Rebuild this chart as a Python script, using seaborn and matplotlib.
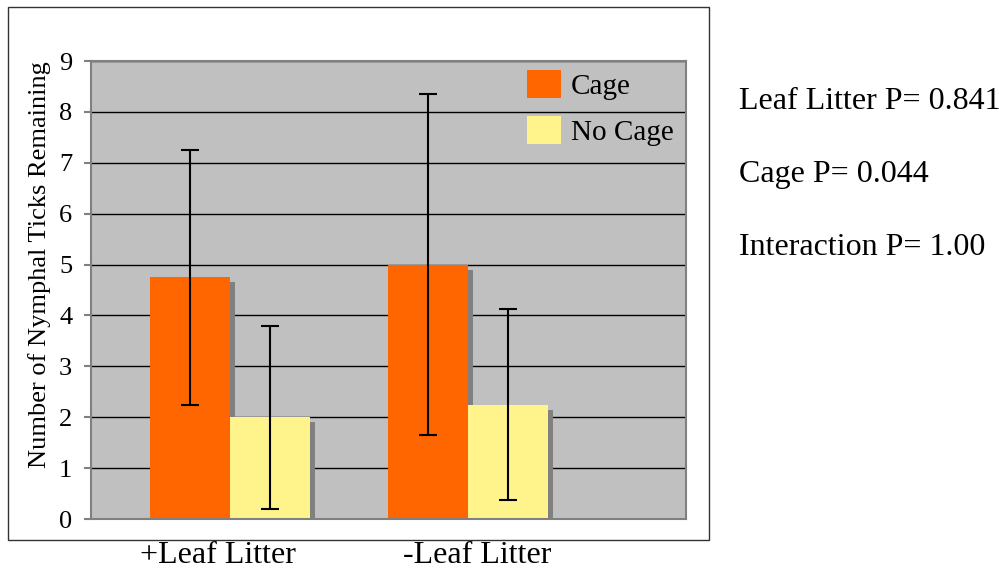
import pandas as pd
import seaborn as sns
import matplotlib.pyplot as plt
import matplotlib.patheffects as pe
import matplotlib.transforms as mtrans
from matplotlib.patches import Rectangle

# data
litter = ['+Leaf Litter', '-Leaf Litter']
cage_levels = ['Cage', 'No Cage']
cage_means = [4.75, 5.0]
nocage_means = [2.0, 2.25]
cage_err = [2.5, 3.35]
nocage_err = [1.8, 1.88]
stats_text = ['Leaf Litter P= 0.841', 'Cage P= 0.044', 'Interaction P= 1.00']

df = pd.DataFrame({
    'litter': litter * 2,
    'cage': ['Cage'] * 2 + ['No Cage'] * 2,
    'ticks': cage_means + nocage_means,
})

sns.set_theme(style='white')
plt.rcParams['font.family'] = ['Liberation Serif', 'DejaVu Serif']
plt.rcParams['text.color'] = 'black'
plt.rcParams['axes.labelcolor'] = 'black'

W, H = 999, 571
fig = plt.figure(figsize=(W / 100, H / 100), dpi=100)
ax = fig.add_axes([91 / W, 1 - 519 / H, 595 / W, 458 / H])

sns.barplot(data=df, x='litter', y='ticks', hue='cage', order=litter, hue_order=cage_levels,
            palette=['#FF6600', '#FFF38C'], width=0.672, linewidth=0, errorbar=None,
            saturation=1, ax=ax)

# drop shadow like the old Excel chart + error bars
for cont, errs in zip(ax.containers, [cage_err, nocage_err]):
    xs, ys = [], []
    for b in cont:
        b.set_path_effects([pe.SimplePatchShadow(offset=(3.6, -3.6), shadow_rgbFace='#808080', alpha=1.0),
                            pe.Normal()])
        xs.append(b.get_x() + b.get_width() / 2)
        ys.append(b.get_height())
    ax.errorbar(xs, ys, yerr=errs, fmt='none', ecolor='black', elinewidth=1.5,
                capsize=6.5, capthick=1.5, zorder=4)

ax.set_facecolor('#C0C0C0')
ax.set_xlim(-0.584, 1.916)
ax.set_ylim(0, 9)
ax.set_yticks(range(10))
ax.yaxis.grid(True, color='black', linewidth=1)
ax.set_axisbelow(True)
for s in ax.spines.values():
    s.set_color('#808080')
    s.set_linewidth(1.5)
ax.tick_params(axis='y', left=True, length=5, width=1.5, color='#808080', pad=8.5,
               labelsize=19, labelcolor='black')
ax.tick_params(axis='x', length=0, pad=16, labelsize=23, labelcolor='black')
ax.set_xlabel('')
ax.set_ylabel('Number of Nymphal Ticks Remaining', fontsize=19)
ax.yaxis.set_label_coords(-0.068, 0.555)

# category labels sit a bit off-centre in the original
for lab, dx in zip(ax.get_xticklabels(), [-12, 9]):
    lab.set_transform(lab.get_transform() + mtrans.ScaledTranslation(dx / 100, 0, fig.dpi_scale_trans))

handles, labels = ax.get_legend_handles_labels()
leg = ax.legend(handles, labels, loc='upper left', bbox_to_anchor=(527 / W, 1 - 70 / H),
                bbox_transform=fig.transFigure, frameon=False, fontsize=21,
                handlelength=1.15, handleheight=1.1, handletextpad=0.35,
                labelspacing=0.55, borderpad=0, borderaxespad=0)
for t in leg.get_texts():
    t.set_color('black')

# outer chart border
fig.patches.append(Rectangle((8 / W, 1 - 540 / H), 701 / W, 533 / H, transform=fig.transFigure,
                             fill=False, edgecolor='#333333', linewidth=1))

for i, t in enumerate(stats_text):
    fig.text(739 / W, 1 - (109 + 73 * i) / H, t, fontsize=23, ha='left', va='baseline', color='black')

fig.savefig('out.png', dpi=100)
